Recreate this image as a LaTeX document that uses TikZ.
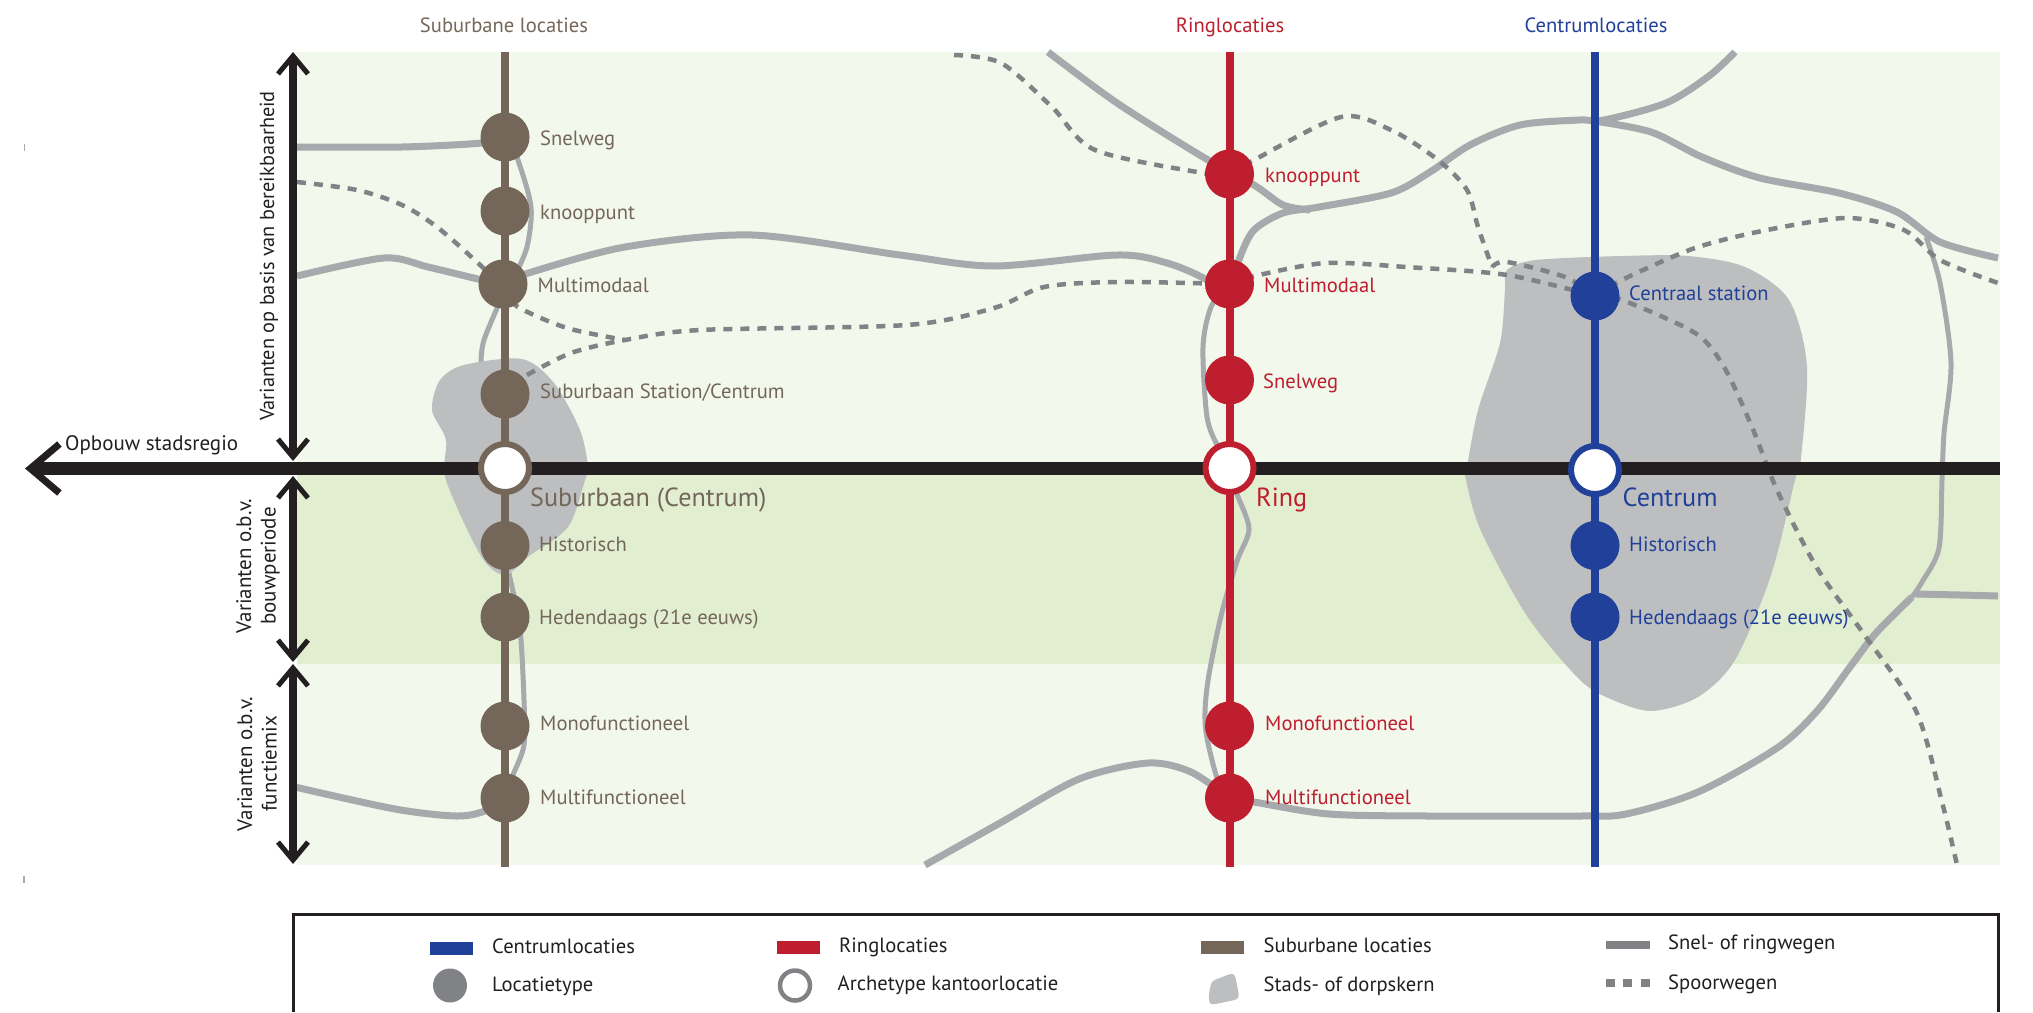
\documentclass[tikz,border=0pt]{standalone}
\usepackage{fontspec}
\setmainfont{PT Sans}
\usetikzlibrary{arrows.meta}
\definecolor{bglight}{HTML}{F2F8EC}
\definecolor{bgdark}{HTML}{E2EED0}
\definecolor{ink}{HTML}{231F20}
\definecolor{subc}{HTML}{74675A}
\definecolor{ringc}{HTML}{BE1E2D}
\definecolor{cenc}{HTML}{21409A}
\definecolor{road}{HTML}{A7A9AC}
\definecolor{rail}{HTML}{808285}
\definecolor{core}{HTML}{BCBEC0}
\tikzset{
  roadline/.style={draw=road,line width=7pt,line cap=butt},
  thinroad/.style={draw=road,line width=5pt},
  railline/.style={draw=rail,line width=4.5pt,dash pattern=on 9pt off 8pt},
  coreblob/.style={fill=core,draw=none},
  column/.style={line width=8pt},
  spot/.style={circle,minimum size=49pt,inner sep=0pt,fill=#1,draw=none},
  hollow/.style={circle,minimum size=48pt,inner sep=0pt,fill=white,draw=#1,line width=6pt},
  lab/.style={anchor=base west,inner sep=0pt,font=\fontsize{20.6}{24}\selectfont,text=#1},
  biglab/.style={anchor=base west,inner sep=0pt,font=\fontsize{26.2}{30}\selectfont,text=#1},
  toplab/.style={anchor=base,inner sep=0pt,font=\fontsize{20.6}{24}\selectfont,text=#1},
  sidelab/.style={rotate=90,anchor=center,inner sep=0pt,align=center,font=\fontsize{21}{24.5}\selectfont,text=ink},
  leglab/.style={anchor=base west,inner sep=0pt,font=\fontsize{20.6}{24}\selectfont,text=ink},
  bigarrow/.style={draw=ink,line width=8pt,{Straight Barb[length=18pt,width=30pt,line width=5pt]}-{Straight Barb[length=18pt,width=30pt,line width=5pt]}},
}
\begin{document}
\begin{tikzpicture}[x=1pt,y=-1pt]
\useasboundingbox (0,0) rectangle (2033,1012);
% backgrounds
\fill[bglight] (297,52) rectangle (2000,865);
\fill[bgdark] (297,474) rectangle (2000,664);
% roads
\draw[roadline] plot[smooth] coordinates {(297,147) (402,147) (482,143) (505,137)};
\draw[thinroad] plot[smooth] coordinates {(505,130) (518,160) (531,207) (527,247) (515,275)};
\draw[thinroad] plot[smooth] coordinates {(505,290) (484,340) (481,365)};
\draw[roadline] plot[smooth] coordinates {(297,276) (384,258) (428,267) (478,279) (503,284)};
\draw[roadline] plot[smooth] coordinates {(503,284) (522,275) (625,247) (752,235) (900,255) (994,266) (1117,255) (1167,263) (1207,280) (1229,300)};
\draw[roadline] plot[smooth] coordinates {(1048,52) (1117,103) (1203,157) (1254,185) (1283,205) (1310,210)};
\draw[roadline] plot[smooth] coordinates {(1232,284) (1240,257) (1254,230) (1283,213) (1319,207) (1391,193) (1430,172) (1470,145) (1520,125) (1579,120) (1604,120) (1666,103) (1709,76) (1735,52)};
\draw[roadline] plot[smooth] coordinates {(1594,121) (1651,132) (1702,157) (1760,178) (1839,193) (1897,212) (1940,242) (1998,258)};
\draw[thinroad] plot[smooth] coordinates {(1926,237) (1940,283) (1951,363) (1944,433) (1942,480) (1939,548) (1922,582) (1912,597)};
\draw[roadline] plot[smooth] coordinates {(1912,597) (1876,633) (1850,667) (1817,711) (1777,748) (1698,792) (1626,814) (1580,816) (1428,816) (1329,814) (1254,802) (1230,798)};
\draw[roadline] plot[smooth] coordinates {(1916,594) (1960,595) (1998,596)};
\draw[thinroad] plot[smooth] coordinates {(1228,284) (1211,307) (1203,347) (1207,417) (1218,447) (1229,468) (1237,494) (1249,529) (1237,561) (1221,616) (1207.5,684) (1205.5,728) (1217,778) (1229,798)};
\draw[roadline] plot[smooth] coordinates {(925,865) (1000,823) (1079,779) (1148,763) (1191,772) (1229,798)};
\draw[roadline] plot[smooth] coordinates {(295,787) (395,809) (456,816) (485,811) (505,798)};
\draw[thinroad] plot[smooth] coordinates {(505,560) (510,578) (520,629) (524,700) (524,745) (513,775) (505,798)};
% city cores
\fill[coreblob] plot[smooth cycle] coordinates {(1507,270) (1536,260) (1622,256) (1688,256) (1745,267) (1789,300) (1807,367) (1800,467) (1795,480) (1771,575) (1735,660) (1698,697) (1652,711) (1613,700) (1580,680) (1527,616) (1481,531) (1466,480) (1467,467) (1478,410) (1500,343) (1505,290)};
\fill[coreblob] plot[smooth cycle] coordinates {(464,365) (522,359) (554,383) (580,430) (588,467) (585,480) (568,527) (529,556) (505,575) (481,556) (446,480) (446,440) (432,410) (440,380)};
% rails
\draw[railline] plot[smooth] coordinates {(297,182) (357,190) (402,205) (437,227) (478,263) (505,290) (518,307) (567,328) (625,340)};
\draw[railline] plot[smooth] coordinates {(527,375) (571,353) (625,340) (700,330) (907,325) (994,308) (1044,287) (1117,282) (1229,284)};
\draw[railline] plot[smooth] coordinates {(1229,284) (1259,275) (1326,263) (1406,267) (1507,275) (1595,296)};
\draw[railline] plot[smooth] coordinates {(954,55) (1001,63) (1052,107) (1095,150) (1203,173) (1229,174)};
\draw[railline] plot[smooth] coordinates {(1229,174) (1254,160) (1341,117) (1391,130) (1438,160) (1467,190) (1478,227) (1492,267)};
\draw[railline] plot[smooth] coordinates {(1492,267) (1507,262) (1565,277) (1595,296)};
\draw[railline] plot[smooth] coordinates {(1595,296) (1626,278) (1695,248) (1767,230) (1847,218) (1904,230) (1940,260) (1998,283)};
\draw[railline] plot[smooth] coordinates {(1595,296) (1622,300) (1695,333) (1724,367) (1752,427) (1777,490) (1817,568) (1863,633) (1916,711) (1942,802) (1957,865)};
% main axis
\coordinate (axisL) at (25,468.5);
\coordinate (axisR) at (2000,468.5);
\draw[draw=ink,line width=13pt,{Straight Barb[length=29pt,width=49pt,line width=7pt]}-] (axisL) -- (axisR);
% vertical arrows
\coordinate (va1) at (293,52); \coordinate (va2) at (293,461);
\coordinate (vb1) at (293,476); \coordinate (vb2) at (293,662);
\coordinate (vc1) at (293,664); \coordinate (vc2) at (293,864);
\draw[bigarrow] (va1) -- (va2);
\draw[bigarrow] (vb1) -- (vb2);
\draw[bigarrow] (vc1) -- (vc2);
% columns
\coordinate (st) at (505,52); \coordinate (sb) at (505,867);
\coordinate (rt) at (1229.5,52); \coordinate (rb) at (1229.5,867);
\coordinate (ct) at (1595,52); \coordinate (cb) at (1595,867);
\draw[column,subc] (st) -- (sb);
\draw[column,ringc] (rt) -- (rb);
\draw[column,cenc] (ct) -- (cb);
% suburban nodes
\node[spot=subc] (s1) at (505,137) {};
\node[spot=subc] (s2) at (505,211) {};
\node[spot=subc] (s3) at (503,284) {};
\node[spot=subc] (s4) at (505,394) {};
\node[hollow=subc] (s5) at (505,468) {};
\node[spot=subc] (s6) at (505,545.5) {};
\node[spot=subc] (s7) at (505,617) {};
\node[spot=subc] (s8) at (505,726) {};
\node[spot=subc] (s9) at (505,798) {};
% ring nodes
\node[spot=ringc] (r1) at (1229.5,174) {};
\node[spot=ringc] (r2) at (1229.5,284) {};
\node[spot=ringc] (r3) at (1229.5,380) {};
\node[hollow=ringc] (r4) at (1229.5,468) {};
\node[spot=ringc] (r5) at (1229.5,726) {};
\node[spot=ringc] (r6) at (1229.5,798) {};
% centrum nodes
\node[spot=cenc] (c1) at (1595,296) {};
\node[hollow=cenc] (c2) at (1595,470) {};
\node[spot=cenc] (c3) at (1595,545.5) {};
\node[spot=cenc] (c4) at (1595,617) {};
% labels
\node[toplab=subc] (t1) at (504,32) {Suburbane locaties};
\node[toplab=ringc] (t2) at (1230,32) {Ringlocaties};
\node[toplab=cenc] (t3) at (1596,32) {Centrumlocaties};
\node[lab=subc] (ls1) at (540,145) {Snelweg};
\node[lab=subc] (ls2) at (540,219) {knooppunt};
\node[lab=subc] (ls3) at (537.5,292) {Multimodaal};
\node[lab=subc] (ls4) at (540,398) {Suburbaan Station/Centrum};
\node[biglab=subc] (ls5) at (530,506) {Suburbaan (Centrum)};
\node[lab=subc] (ls6) at (539,551) {Historisch};
\node[lab=subc] (ls7) at (539,624) {Hedendaags (21e eeuws)};
\node[lab=subc] (ls8) at (540,730) {Monofunctioneel};
\node[lab=subc] (ls9) at (540,804) {Multifunctioneel};
\node[lab=ringc] (lr1) at (1265,182) {knooppunt};
\node[lab=ringc] (lr2) at (1264,292) {Multimodaal};
\node[lab=ringc] (lr3) at (1263,388) {Snelweg};
\node[biglab=ringc] (lr4) at (1256,506) {Ring};
\node[lab=ringc] (lr5) at (1265,730) {Monofunctioneel};
\node[lab=ringc] (lr6) at (1265,804) {Multifunctioneel};
\node[lab=cenc] (lc1) at (1629,300) {Centraal station};
\node[biglab=cenc] (lc2) at (1622.5,506) {Centrum};
\node[lab=cenc] (lc3) at (1629,551) {Historisch};
\node[lab=cenc] (lc4) at (1629,624) {Hedendaags (21e eeuws)};
\node[lab=ink,font=\fontsize{21}{24}\selectfont] (opb) at (65,450) {Opbouw stadsregio};
\node[sidelab,font=\fontsize{20.3}{24}\selectfont] (v1) at (269,256) {Varianten op basis van bereikbaarheid};
\node[sidelab] (v2) at (258,566) {Varianten o.b.v.\\bouwperiode};
\node[sidelab] (v3) at (257,764) {Varianten o.b.v.\\functiemix};
% crop ticks
\draw[road,line width=1.5pt] (24.5,144) -- (24.5,151);
\draw[road,line width=1.5pt] (24,876) -- (24,883);
% legend
\draw[ink,line width=3pt] (293,1012) -- (293,914) -- (1998,914) -- (1998,1012);
\fill[cenc] (430,941.5) rectangle (473,954.5);
\node[leglab] (l1) at (492,953) {Centrumlocaties};
\node[spot=rail,minimum size=34pt] (l2c) at (450,985.5) {};
\node[leglab] (l2) at (492,991) {Locatietype};
\fill[ringc] (777,941) rectangle (820,954);
\node[leglab] (l3) at (839,952) {Ringlocaties};
\node[hollow=rail,minimum size=30pt,line width=4.5pt] (l4c) at (795,985.5) {};
\node[leglab] (l4) at (837.5,990) {Archetype kantoorlocatie};
\fill[subc] (1201,940.5) rectangle (1244,953.5);
\node[leglab] (l5) at (1263.5,952) {Suburbane locaties};
\fill[core] plot[smooth cycle] coordinates {(1212,982) (1220,978) (1233,974) (1237,985) (1238,998) (1225,1002) (1211,1004) (1209,995)};
\node[leglab] (l6) at (1263.5,991) {Stads- of dorpskern};
\fill[rail] (1606,940.5) rectangle (1649.5,948.5);
\node[leglab] (l7) at (1668,949) {Snel- of ringwegen};
\fill[rail] (1606,979) rectangle (1615,986.5);
\fill[rail] (1623,979) rectangle (1632,986.5);
\fill[rail] (1640.5,979) rectangle (1649.5,986.5);
\node[leglab] (l8) at (1668,989) {Spoorwegen};
\end{tikzpicture}
\end{document}
